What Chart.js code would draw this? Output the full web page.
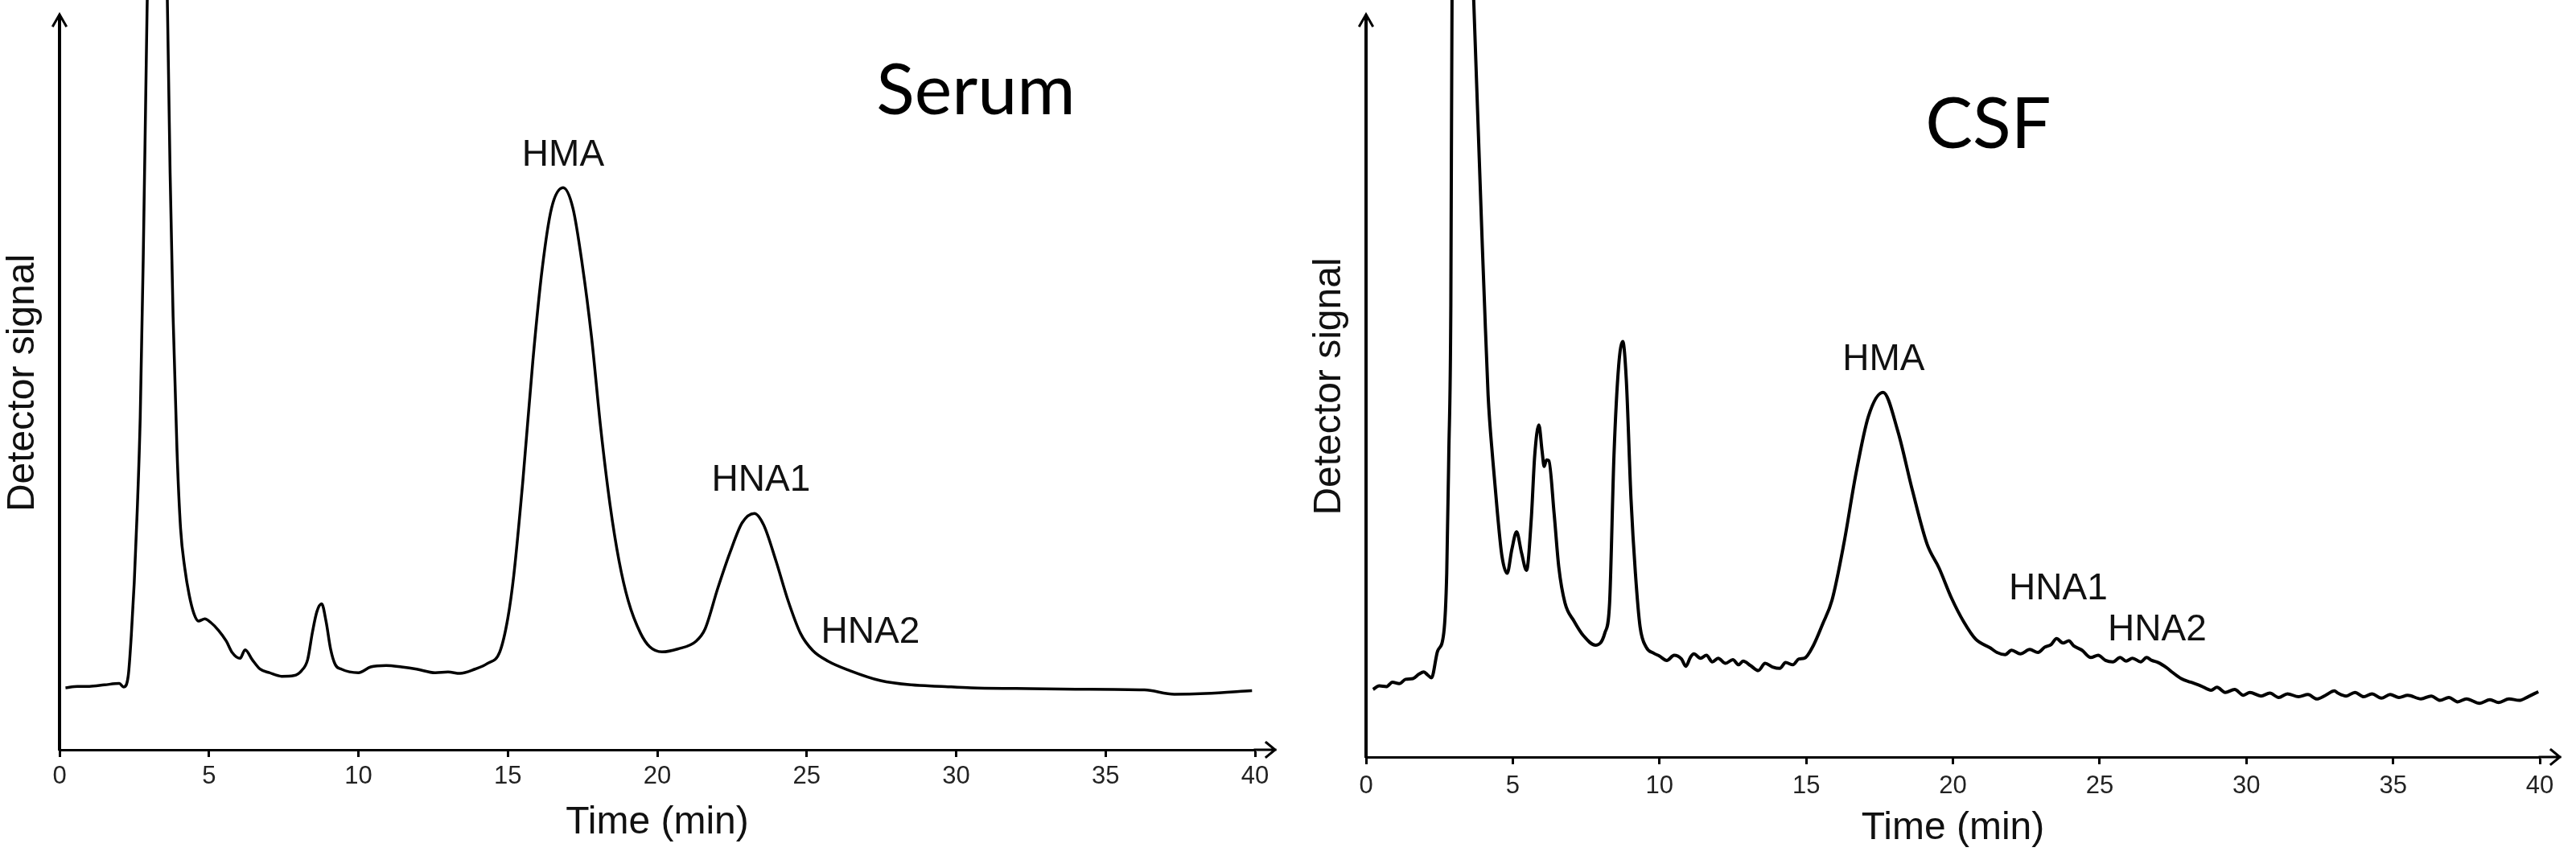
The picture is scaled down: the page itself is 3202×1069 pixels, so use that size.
<!DOCTYPE html>
<html>
<head>
<meta charset="utf-8">
<script src="https://cdn.jsdelivr.net/npm/chart.js@4.4.1/dist/chart.umd.min.js"></script>
<style>
  html, body { margin: 0; padding: 0; background: #fff; }
  body { width: 3202px; height: 1069px; position: relative; overflow: hidden; }
  canvas { position: absolute; top: 0; }
  #chart1 { left: 0; }
  #chart2 { left: 1624px; }
</style>
</head>
<body>
<canvas id="chart1" width="1601" height="1069"></canvas>
<canvas id="chart2" width="1578" height="1069"></canvas>
<script>
// Serum chromatogram (time in min, signal in arbitrary units)
const serumTime = [0.2, 0.6, 1.0, 1.5, 2.0, 2.15, 2.3, 2.4, 2.5, 2.6, 2.7, 2.8, 2.9, 3.0, 3.25, 3.5, 3.6, 3.7, 3.8, 3.93,
  4.05, 4.19, 4.34, 4.5, 4.65, 4.86, 5.06, 5.32, 5.58, 5.78, 6.04, 6.21, 6.45, 6.71, 7.02, 7.43, 7.84, 8.1, 8.3, 8.46,
  8.61, 8.77, 8.92, 9.07, 9.23, 9.43, 10.0, 10.41, 10.93, 11.44, 11.95, 12.57, 13.0, 13.4, 13.9, 14.32, 14.73, 15.0, 15.2, 15.5,
  15.84, 16.15, 16.46, 16.85, 17.18, 17.49, 17.8, 18.11, 18.42, 18.72, 19.03, 19.44, 19.75, 20.16, 20.68, 21.3, 21.6, 22.02, 22.43, 22.84,
  23.25, 23.56, 23.97, 24.38, 24.79, 25.2, 25.72, 26.44, 27.47, 28.5, 29.5, 30.5, 32.0, 34.0, 36.3, 37.3, 38.35, 39.9];
const serumSignal = [8.3, 8.5, 8.5, 8.7, 8.9, 8.4, 10, 15.5, 23, 33, 46, 68, 95, 120, 150, 125, 106, 80, 60, 41.4,
  30.5, 25, 21.2, 18.6, 17.6, 17.9, 17.4, 16.3, 14.8, 13.2, 12.4, 13.6, 12.2, 10.9, 10.4, 9.9, 10, 10.7, 12.2, 16,
  18.9, 20, 17.5, 13.7, 11.5, 10.9, 10.4, 11.2, 11.4, 11.2, 10.9, 10.4, 10.5, 10.3, 10.9, 11.7, 13.3, 18, 24, 37,
  54, 66.7, 75.1, 78, 75.1, 67.3, 57.2, 44.4, 33.8, 26, 20.4, 15.9, 14, 13.3, 13.7, 14.8, 16.5, 22.1, 27.1, 31.3,
  32.6, 31, 26, 20.4, 15.9, 13.5, 12, 10.7, 9.3, 8.7, 8.5, 8.3, 8.2, 8.1, 8.0, 7.4, 7.5, 7.9];

// CSF chromatogram (noisier trace, so more points)
const csfTime = [0.24, 0.45, 0.7, 0.9, 1.13, 1.35, 1.6, 1.8, 1.97, 2.1, 2.23, 2.44, 2.65, 2.75, 2.82, 2.89, 2.93, 3.2, 3.5, 3.67,
  4.04, 4.16, 4.32, 4.48, 4.63, 4.81, 4.97, 5.13, 5.3, 5.47, 5.63, 5.75, 5.89, 6.0, 6.07, 6.15, 6.23, 6.41, 6.57, 6.78,
  7.09, 7.41, 7.82, 8.14, 8.3, 8.45, 8.61, 8.75, 8.87, 9.03, 9.18, 9.34, 9.55, 9.8, 10.0, 10.25, 10.5, 10.75, 10.9, 11.05,
  11.17, 11.4, 11.6, 11.8, 12.0, 12.25, 12.5, 12.7, 12.85, 13.1, 13.37, 13.6, 13.85, 14.1, 14.3, 14.55, 14.75, 14.94, 15.25, 15.56,
  15.88, 16.28, 16.7, 17.12, 17.62, 18.12, 18.62, 19.12, 19.53, 19.95, 20.37, 20.78, 21.28, 21.5, 21.78, 22.0, 22.3, 22.62, 22.9, 23.12,
  23.35, 23.53, 23.75, 23.95, 24.12, 24.4, 24.7, 24.95, 25.2, 25.45, 25.7, 25.9, 26.12, 26.4, 26.6, 26.78, 27.0, 27.28, 27.5, 27.78,
  28.1, 28.45, 28.8, 29.0, 29.28, 29.6, 29.9, 30.12, 30.5, 30.8, 31.1, 31.4, 31.78, 32.1, 32.4, 32.7, 33.0, 33.12, 33.4, 33.7,
  34.0, 34.28, 34.6, 34.9, 35.2, 35.5, 35.95, 36.3, 36.6, 36.9, 37.2, 37.5, 37.95, 38.3, 38.6, 38.95, 39.3, 39.6, 39.95];
const csfSignal = [9.2, 9.7, 9.6, 10.2, 10.0, 10.6, 10.7, 11.3, 11.6, 11.2, 10.8, 14.5, 17, 25.2, 41.5, 62, 104, 150, 130, 104,
  62, 49.7, 40.8, 33.4, 27.6, 25.2, 28.5, 30.9, 28, 25.6, 32.6, 41.5, 45.6, 42, 39.9, 40.8, 40.7, 33.4, 26, 21.1,
  18.6, 16.6, 15.3, 17, 21.1, 41.5, 53.8, 57.1, 51.8, 35.4, 25.2, 17.8, 15, 14.2, 13.8, 13.2, 13.9, 13.4, 12.4, 13.6,
  14.1, 13.5, 13.9, 13.0, 13.5, 12.8, 13.3, 12.6, 13.1, 12.5, 11.8, 12.8, 12.3, 12.1, 12.9, 12.6, 13.4, 13.5, 15.3, 18.2,
  21.5, 29.2, 39, 46.8, 50.1, 44.8, 36.6, 29.2, 25.9, 21.8, 18.5, 16.1, 14.9, 14.3, 14.0, 14.6, 14.1, 14.7, 14.3, 15.0,
  15.4, 16.2, 15.6, 15.9, 15.2, 14.6, 13.6, 13.9, 13.2, 13.0, 13.6, 13.1, 13.5, 13.0, 13.6, 13.2, 12.9, 12.2, 11.5, 10.7,
  10.2, 9.7, 9.1, 9.5, 8.8, 9.2, 8.4, 8.8, 8.3, 8.7, 8.1, 8.6, 8.2, 8.5, 7.9, 8.4, 9.0, 8.7, 8.3, 8.8,
  8.2, 8.6, 8.0, 8.5, 8.1, 8.4, 7.9, 8.3, 7.7, 8.1, 7.5, 7.9, 7.3, 7.8, 7.4, 7.9, 7.7, 8.2, 8.9];

// Peak labels: text, retention time, signal height of the label baseline
const serumPeakNames = ['HMA', 'HNA1', 'HNA2'];
const serumPeakTime = [16.85, 23.47, 27.13];
const serumPeakLevel = [81, 35.8, 14.6];
const csfPeakNames = ['HMA', 'HNA1', 'HNA2'];
const csfPeakTime = [17.64, 23.59, 26.96];
const csfPeakLevel = [53.2, 21.6, 16];

const timeTicks = [0, 5, 10, 15, 20, 25, 30, 35, 40];

// Draws the axis arrows, the peak names and the sample name
const chromAnnotations = {
  id: 'chromAnnotations',
  afterDraw(chart, args, opts) {
    const { ctx, chartArea: a, scales } = chart;
    ctx.save();
    ctx.strokeStyle = '#000';
    ctx.lineCap = 'square';
    // y axis arrow
    ctx.lineWidth = 3;
    ctx.beginPath();
    ctx.moveTo(a.left - 8, a.top + 12);
    ctx.lineTo(a.left, a.top - 2);
    ctx.lineTo(a.left + 8, a.top + 12);
    ctx.stroke();
    // x axis extension and arrow
    ctx.beginPath();
    ctx.moveTo(a.right, a.bottom);
    ctx.lineTo(a.right + 25, a.bottom);
    ctx.moveTo(a.right + 14, a.bottom - 9);
    ctx.lineTo(a.right + 25, a.bottom);
    ctx.lineTo(a.right + 14, a.bottom + 9);
    ctx.stroke();

    ctx.fillStyle = '#111';
    ctx.textAlign = 'center';
    ctx.textBaseline = 'alphabetic';
    ctx.font = '46px "Liberation Sans", Arial, sans-serif';
    opts.names.forEach((name, i) => {
      ctx.fillText(name, scales.x.getPixelForValue(opts.times[i]), scales.y.getPixelForValue(opts.levels[i]));
    });
    ctx.font = '88px Lato, "Open Sans", sans-serif';
    ctx.fillStyle = '#000';
    ctx.fillText(opts.sample, scales.x.getPixelForValue(opts.sampleTime), scales.y.getPixelForValue(opts.sampleLevel));
    ctx.restore();
  }
};

function makeChromatogram(canvasId, times, signal, layout) {
  const ctx = document.getElementById(canvasId).getContext('2d');
  return new Chart(ctx, {
    type: 'line',
    data: {
      datasets: [
        {
          data: times.map((t, i) => ({ x: t, y: signal[i] })),
          borderColor: '#000',
          borderWidth: layout.lineWidth,
          pointRadius: 0,
          cubicInterpolationMode: 'monotone',
          fill: false,
          clip: false,
        },
      ],
    },
    options: {
      responsive: false,
      animation: false,
      events: [],
      layout: { padding: { top: 20, right: layout.padRight, left: 0, bottom: 0 } },
      plugins: {
        legend: { display: false },
        tooltip: { enabled: false },
        chromAnnotations: layout.annotations,
      },
      scales: {
        x: {
          type: 'linear',
          min: 0,
          max: 40,
          afterBuildTicks: (scale) => { scale.ticks = timeTicks.map((v) => ({ value: v })); },
          afterFit: (scale) => { scale.height = layout.xHeight; },
          ticks: {
            color: '#222',
            padding: layout.tickPad,
            maxRotation: 0,
            font: { family: '"Liberation Sans", Arial, sans-serif', size: 31 },
          },
          grid: { drawOnChartArea: false, drawTicks: true, tickLength: 9, tickWidth: 3, tickColor: '#000' },
          border: { display: true, color: '#000', width: 3 },
          title: {
            display: true,
            text: 'Time (min)',
            color: '#111',
            font: { family: '"Liberation Sans", Arial, sans-serif', size: 48, lineHeight: 1.2 },
            padding: { top: 0, bottom: layout.titlePad },
          },
        },
        y: {
          min: layout.yMin,
          max: 101.9,
          afterFit: (scale) => { scale.width = 74; },
          ticks: { display: false },
          grid: { drawOnChartArea: false, drawTicks: false },
          border: { display: true, color: '#000', width: 4 },
          title: {
            display: true,
            text: 'Detector signal',
            color: '#111',
            font: { family: '"Liberation Sans", Arial, sans-serif', size: 48, lineHeight: 1.2 },
            padding: { top: 0, bottom: 0 },
          },
        },
      },
    },
    plugins: [chromAnnotations],
  });
}

window.serumChart = makeChromatogram('chart1', serumTime, serumSignal, {
  lineWidth: 3.5, padRight: 41, xHeight: 137, tickPad: 6, titlePad: 17, yMin: -0.34,
  annotations: { names: serumPeakNames, times: serumPeakTime, levels: serumPeakLevel, sample: 'Serum', sampleTime: 30.66, sampleLevel: 88.2 },
});

window.csfChart = makeChromatogram('chart2', csfTime, csfSignal, {
  lineWidth: 4, padRight: 45, xHeight: 128, tickPad: 9, titlePad: 10, yMin: -0.1,
  annotations: { names: csfPeakNames, times: csfPeakTime, levels: csfPeakLevel, sample: 'CSF', sampleTime: 21.2, sampleLevel: 83.7 },
});
</script>
</body>
</html>
